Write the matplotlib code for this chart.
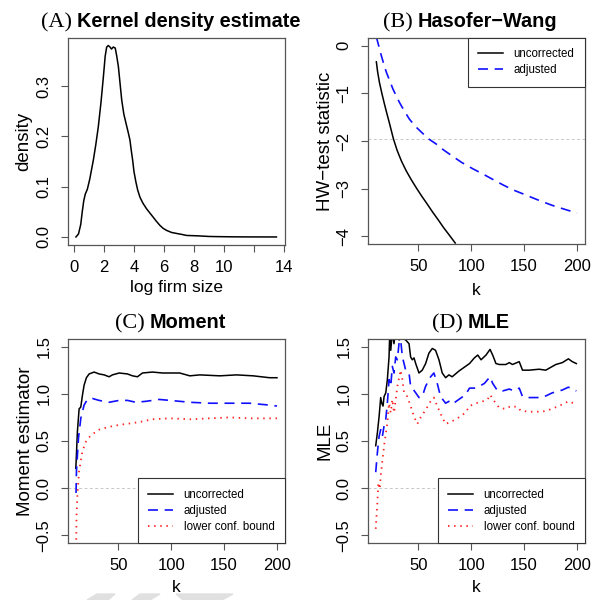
import matplotlib
matplotlib.use("Agg")
import matplotlib.pyplot as plt
from matplotlib.patches import Polygon

plt.rcParams["font.family"] = ["Liberation Sans", "DejaVu Sans"]

# ---- data ----
kde_x = [0.13, 0.3, 0.45, 0.55, 0.65, 0.75, 0.89, 1.05, 1.29, 1.45, 1.62, 1.8, 1.96, 2.08,
         2.18, 2.29, 2.4, 2.5, 2.62, 2.75, 2.85, 2.96, 3.08, 3.18, 3.32, 3.47, 3.6, 3.73,
         3.82, 3.91, 4.0, 4.13, 4.25, 4.4, 4.6, 4.84, 5.05, 5.29, 5.5, 5.73, 5.95, 6.18,
         6.5, 6.84, 7.2, 7.51, 8.0, 8.4, 9.0, 9.5, 10.5, 11.5, 13.5]
kde_y = [0.0, 0.006, 0.025, 0.05, 0.072, 0.085, 0.095, 0.115, 0.153, 0.183, 0.219, 0.268, 0.319, 0.36,
         0.378, 0.381, 0.378, 0.374, 0.378, 0.376, 0.36, 0.339, 0.303, 0.273, 0.245, 0.226, 0.21, 0.193,
         0.172, 0.153, 0.13, 0.109, 0.093, 0.079, 0.067, 0.056, 0.048, 0.039, 0.031, 0.023, 0.017, 0.013,
         0.009, 0.007, 0.005, 0.003, 0.0025, 0.002, 0.001, 0.0007, 0.0003, 0.0001, 0.0]
kde_xticks = [0, 2, 4, 6, 8, 10, 12, 14]
kde_xticklabels = ["0", "2", "4", "6", "8", "10", "", "14"]

hw_k_unc = [10.3, 11.5, 13.2, 15.5, 17.9, 20.2, 22.6, 26.5, 30, 34, 38.4, 43, 48, 53, 58, 63.5,
            69, 74, 79.5, 84.9]
hw_unc = [-0.34, -0.55, -0.77, -1.0, -1.22, -1.42, -1.62, -1.96, -2.2, -2.42, -2.62, -2.8, -2.98,
          -3.15, -3.31, -3.49, -3.66, -3.82, -3.98, -4.14]
hw_k_adj = [10.3, 12.5, 15, 17.5, 19.8, 23, 26, 29, 32.1, 36.5, 41.5, 47.5, 54.1, 60, 66.7, 74,
            82.4, 91, 101.3, 110, 120, 130, 139, 148, 157.9, 167, 176.7, 188, 200]
hw_adj = [0.18, 0.0, -0.21, -0.40, -0.56, -0.74, -0.91, -1.05, -1.19, -1.36, -1.54, -1.70, -1.84,
          -1.96, -2.06, -2.19, -2.32, -2.45, -2.58, -2.68, -2.80, -2.92, -3.02, -3.10, -3.19, -3.27,
          -3.35, -3.43, -3.51]
hw_crit = -1.96

mom_k_unc = [9.8, 11.3, 12.9, 14.5, 16, 17.6, 19.8, 22.4, 27.1, 31.8, 36.6, 41.3, 44.4, 50.8, 58.6,
             63.4, 68.1, 72.8, 82.3, 91.8, 98.7, 108, 117.6, 127, 146, 161.8, 177.5, 193, 200]
mom_unc = [0.21, 0.60, 0.84, 0.86, 0.98, 1.09, 1.17, 1.21, 1.23, 1.21, 1.20, 1.18, 1.20, 1.22, 1.21,
           1.19, 1.18, 1.22, 1.23, 1.22, 1.22, 1.22, 1.19, 1.20, 1.19, 1.20, 1.19, 1.17, 1.17]
mom_k_adj = [10, 10.4, 12.3, 14.5, 17.6, 20.8, 25.5, 31.8, 41.3, 50.8, 58.6, 66.5, 76, 88.6, 98.7,
             117.6, 136.6, 155, 174, 193, 200]
mom_adj = [-0.05, 0.18, 0.53, 0.74, 0.88, 0.94, 0.95, 0.93, 0.91, 0.93, 0.93, 0.91, 0.92, 0.94, 0.93,
           0.91, 0.90, 0.90, 0.90, 0.88, 0.87]
mom_k_low = [9.8, 10.4, 11.3, 12.9, 16, 19.2, 23.9, 31.8, 41.3, 50.8, 63.4, 69.7, 82.3, 98.7, 117.6,
             136.6, 155, 174, 200]
mom_low = [-1.0, -0.31, -0.07, 0.18, 0.39, 0.49, 0.56, 0.62, 0.65, 0.67, 0.69, 0.70, 0.73, 0.74, 0.73,
           0.74, 0.75, 0.74, 0.74]

mle_k_unc = [9.7, 11.3, 12.9, 14.4, 15.4, 16.6, 17.6, 19.2, 20.7, 22.3, 22.9, 23.9, 25.4, 27, 28.5,
             31.7, 34.9, 38, 41.2, 42.7, 44.3, 45.9, 47.5, 50.6, 53.7, 56.9, 60, 63.2, 66.3, 69.5,
             72.6, 75.8, 78.9, 82, 88.3, 94.6, 98.4, 103, 106.2, 109.3, 114, 117.8, 120.3, 123.4,
             126.6, 132.8, 136, 139, 145.4, 148.5, 154.8, 164.2, 170.5, 180, 186.2, 191.9, 195.6, 199.4]
mle_unc = [0.45, 0.59, 0.76, 0.96, 0.90, 0.87, 0.97, 1.01, 1.15, 1.39, 1.62, 1.46, 1.65, 1.53, 1.70,
           1.57, 1.59, 1.57, 1.53, 1.39, 1.36, 1.38, 1.32, 1.22, 1.25, 1.32, 1.43, 1.48, 1.46, 1.36,
           1.22, 1.17, 1.20, 1.18, 1.24, 1.29, 1.32, 1.38, 1.41, 1.36, 1.41, 1.47, 1.41, 1.32,
           1.31, 1.31, 1.33, 1.31, 1.34, 1.25, 1.25, 1.26, 1.25, 1.31, 1.33, 1.37, 1.34, 1.32]
mle_k_adj = [9.7, 11.3, 12.9, 14.4, 16, 17.6, 19.2, 20.7, 22.3, 23.9, 25.4, 27, 28.6, 30.2, 31.7,
             33.3, 34.9, 36.5, 38, 41.2, 42.7, 44.3, 47.5, 50.6, 53.7, 56.9, 61.6, 64.7, 67.9, 71,
             75.8, 78.9, 82, 88.3, 94.6, 98.4, 103, 107.8, 112.5, 117.8, 120.3, 125, 129.7, 136,
             140.6, 145.4, 148.5, 154.8, 167.3, 176.7, 186.2, 191.9, 199.4]
mle_adj = [0.17, 0.38, 0.55, 0.62, 0.55, 0.66, 0.73, 0.90, 1.15, 1.08, 1.29, 1.22, 1.39, 1.36, 1.53,
           1.57, 1.39, 1.32, 1.25, 1.22, 1.08, 1.06, 1.01, 0.96, 0.97, 1.08, 1.18, 1.22, 1.11, 0.97,
           0.90, 0.92, 0.89, 0.94, 0.99, 1.06, 1.06, 1.08, 1.11, 1.18, 1.11, 1.03, 1.03, 1.05,
           1.03, 1.06, 0.97, 0.96, 0.96, 1.01, 1.04, 1.07, 1.03]
mle_k_low = [9.7, 11.3, 12.2, 13.5, 14.4, 17.6, 20.7, 22.3, 23.9, 25.4, 27, 30.2, 33.3, 34.9, 36.5,
             39.6, 42.7, 45.9, 49, 52.2, 56.9, 61.6, 64.7, 67.9, 72.6, 75.8, 82, 88.3, 94.6, 98.4,
             104.6, 110.9, 115.6, 117.8, 121.9, 126.6, 132.8, 137.5, 143.8, 146.9, 154.8, 167.3,
             173.6, 183, 191.9, 199.4]
mle_low = [-0.43, -0.15, 0.06, -0.01, 0.13, 0.45, 0.69, 0.90, 0.80, 0.94, 0.80, 1.08, 1.25, 1.15, 1.01,
           0.97, 0.87, 0.76, 0.68, 0.75, 0.83, 0.92, 0.96, 0.87, 0.75, 0.68, 0.71, 0.75, 0.80, 0.87,
           0.90, 0.92, 0.94, 0.99, 0.92, 0.85, 0.84, 0.87, 0.86, 0.82, 0.81, 0.81,
           0.83, 0.87, 0.92, 0.89]

k_ticks = [50, 100, 150, 200]
labels = ["uncorrected", "adjusted", "lower conf. bound"]

W, H = 593, 600
fig = plt.figure(figsize=(W / 100, H / 100), dpi=100)
FRAME = "#555555"


def r_axes(left, top, right, bottom):
    ax = fig.add_axes([left / W, 1 - bottom / H, (right - left) / W, (bottom - top) / H])
    for s in ax.spines.values():
        s.set_color(FRAME)
        s.set_linewidth(0.9)
    ax.tick_params(direction="out", length=5, width=0.8, color=FRAME, labelsize=12)
    ax.tick_params(axis="x", pad=6)
    ax.tick_params(axis="y", pad=7, labelrotation=90)
    return ax


def ref_line(ax, y):
    ax.axhline(y, color="#c8c8c8", lw=0.7, ls=(0, (3, 2.5)), zorder=1)


BLUE = "#1010ff"
RED = "#ff2020"
blue_kw = dict(color=BLUE, lw=1.2, ls=(0, (6, 4)))
red_kw = dict(color=RED, lw=1.3, ls=(0, (0.8, 2.6)))

# (A) kernel density
axA = r_axes(68, 38, 285, 245)
axA.plot(kde_x, kde_y, color="black", lw=1.1)
axA.set_xlim(-0.4, 14.07)
axA.set_ylim(-0.016, 0.396)
axA.set_xticks(kde_xticks)
axA.set_xticklabels(kde_xticklabels)
axA.set_yticks([0.0, 0.1, 0.2, 0.3])
axA.set_yticklabels(["0.0", "0.1", "0.2", "0.3"], va="center")
axA.set_xlabel("log firm size", fontsize=12.5, labelpad=3.5)
axA.set_ylabel("density", fontsize=13.5, labelpad=3)

# (B) Hasofer-Wang
axB = r_axes(368, 38, 585, 244)
ref_line(axB, hw_crit)
axB.plot(hw_k_unc, hw_unc, color="black", lw=1.1, label=labels[0])
axB.plot(hw_k_adj, hw_adj, label=labels[1], **blue_kw)
axB.set_xlim(2.4, 207.6)
axB.set_ylim(-4.16, 0.16)
axB.set_xticks(k_ticks)
axB.set_yticks([0, -1, -2, -3, -4])
axB.set_yticklabels(["0", "\u22121", "\u22122", "\u22123", "\u22124"], va="center")
axB.set_xlabel("k", fontsize=12.5, labelpad=6)
axB.set_ylabel("HW\u2212test statistic", fontsize=13.5, labelpad=2)

# (C) Moment
axC = r_axes(68, 339, 285, 543)
ref_line(axC, 0)
axC.plot(mom_k_unc, mom_unc, color="black", lw=1.1, label=labels[0])
axC.plot(mom_k_adj, mom_adj, label=labels[1], **blue_kw)
axC.plot(mom_k_low, mom_low, label=labels[2], **red_kw)
axC.set_ylabel("Moment estimator", fontsize=13.5, labelpad=2)

# (D) MLE
axD = r_axes(368, 339, 585, 543)
ref_line(axD, 0)
axD.plot(mle_k_unc, mle_unc, color="black", lw=1.1, label=labels[0])
axD.plot(mle_k_adj, mle_adj, label=labels[1], **blue_kw)
axD.plot(mle_k_low, mle_low, label=labels[2], **red_kw)
axD.set_ylabel("MLE", fontsize=13.5, labelpad=2)

for ax in (axC, axD):
    ax.set_xlim(2.4, 207.6)
    ax.set_ylim(-0.58, 1.58)
    ax.set_xticks(k_ticks)
    ax.set_yticks([-0.5, 0.0, 0.5, 1.0, 1.5])
    ax.set_yticklabels(["\u22120.5", "0.0", "0.5", "1.0", "1.5"], va="center")
    ax.set_xlabel("k", fontsize=12.5, labelpad=5)

legend_kw = dict(fontsize=8.3, frameon=True, fancybox=False, framealpha=1, borderaxespad=0,
                 handlelength=2.2, handletextpad=0.9, labelspacing=0.35, borderpad=0.9)
for ax, loc in ((axB, "upper right"), (axC, "lower right"), (axD, "lower right")):
    lg = ax.legend(loc=loc, **legend_kw)
    lg.get_frame().set_edgecolor("#333333")
    lg.get_frame().set_linewidth(0.8)

# titles: serif tag + bold sans name, centred over each panel
titles = [(axA, "(A)", "Kernel density estimate"), (axB, "(B)", "Hasofer\u2212Wang"),
          (axC, "(C)", "Moment"), (axD, "(D)", "MLE")]
fig.canvas.draw()
rend = fig.canvas.get_renderer()
for ax, tag, name in titles:
    bb = ax.get_position()
    t1 = fig.text(0, 0, tag, family="Liberation Serif", fontsize=16, va="baseline")
    t2 = fig.text(0, 0, name, family="Liberation Sans", weight="bold", fontsize=14.3, va="baseline")
    w1 = t1.get_window_extent(rend).width
    w2 = t2.get_window_extent(rend).width
    cx = (bb.x0 + bb.x1) / 2 * W - 6
    x0 = cx - (w1 + 5 + w2) / 2
    yb = bb.y1 + 11 / H
    t1.set_position((x0 / W, yb))
    t2.set_position(((x0 + w1 + 5) / W, yb))

# faint watermark shapes at the bottom edge
for pts in ([(87, 600), (97, 594), (115, 594), (108, 600)],
            [(132, 600), (140, 594), (160, 594), (150, 600)],
            [(183, 600), (176, 594), (233, 594), (222, 600)]):
    fig.patches.append(Polygon([(x / W, 1 - y / H) for x, y in pts], closed=True,
                               transform=fig.transFigure, color="#e0e0e0", zorder=0))

fig.savefig("out.png", dpi=100)
